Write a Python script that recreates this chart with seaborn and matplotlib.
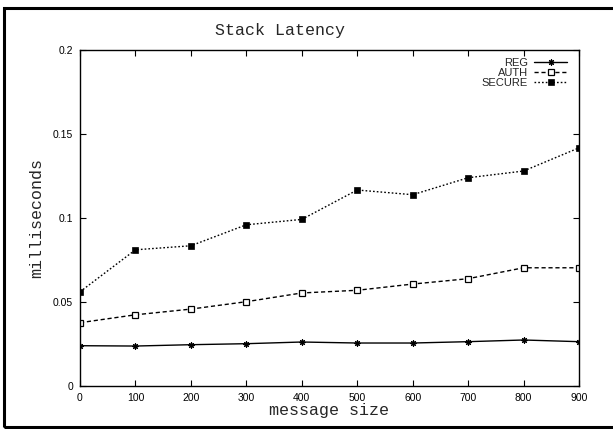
import matplotlib
matplotlib.use("Agg")
import matplotlib.pyplot as plt
import seaborn as sns
import pandas as pd
from matplotlib.patches import Rectangle

sizes = [0, 100, 200, 300, 400, 500, 600, 700, 800, 900]
reg = [0.0240, 0.0238, 0.0246, 0.0252, 0.0262, 0.0256, 0.0256, 0.0264, 0.0274, 0.0264]
auth = [0.0377, 0.0424, 0.0458, 0.0502, 0.0554, 0.0570, 0.0607, 0.0639, 0.0704, 0.0704]
secure = [0.0561, 0.0811, 0.0835, 0.0960, 0.0992, 0.1167, 0.1139, 0.1240, 0.1280, 0.1418]
series_names = ["REG", "AUTH", "SECURE"]
yticks = [0, 0.05, 0.1, 0.15, 0.2]
ytick_labels = ["0", "0.05", "0.1", "0.15", "0.2"]

sns.set_theme(style="white")
plt.rcParams["font.family"] = ["Liberation Sans", "DejaVu Sans"]

fig = plt.figure(figsize=(6.13, 4.29), dpi=100)
ax = fig.add_axes([0.1305, 0.1002, 0.814, 0.783])

styles = {
    "REG": dict(linestyle="-", marker=(8, 2, 0), markersize=4.5, markerfacecolor="black",
                markeredgecolor="black", markeredgewidth=0.8),
    "AUTH": dict(linestyle=(0, (3, 2)), marker="s", markersize=4.2, markerfacecolor="white",
                 markeredgecolor="black", markeredgewidth=0.9),
    "SECURE": dict(linestyle=(0, (1.2, 1.5)), marker="s", markersize=4.6, markerfacecolor="black",
                   markeredgecolor="black", markeredgewidth=0.5),
}
for name, vals in zip(series_names, [reg, auth, secure]):
    df = pd.DataFrame({"size": sizes, "ms": vals})
    sns.lineplot(data=df, x="size", y="ms", ax=ax, color="black", linewidth=1.0,
                 label=name, **styles[name])

ax.set_xlim(0, 900)
ax.set_ylim(0, 0.2)
ax.set_xticks(sizes)
ax.set_xticklabels([str(s) for s in sizes], fontsize=7.5)
ax.set_yticks(yticks)
ax.set_yticklabels(ytick_labels, fontsize=7.5)
ax.tick_params(direction="in", length=4, width=0.8, top=True, right=True,
               bottom=True, left=True, colors="black", pad=5, labelcolor="black")
for s in ax.spines.values():
    s.set_visible(True)
    s.set_color("black")
    s.set_linewidth(1.0)

mono = ["Liberation Mono", "DejaVu Sans Mono"]
fig.text(0.457, 0.930, "Stack Latency", fontsize=12, family=mono, ha="center", va="center")
ax.set_xlabel("message size", fontsize=12, family=mono, labelpad=0)
ax.set_ylabel("milliseconds", fontsize=12, family=mono, labelpad=6)

leg = ax.legend(loc="upper right", bbox_to_anchor=(1 - 4 / 499, 1.0), markerfirst=False,
                frameon=False, fontsize=8, handlelength=3.0, handletextpad=0.55,
                labelspacing=0.0, borderaxespad=0.3)

fig.patches.append(Rectangle((4.2 / 613, 1.8 / 429), 1.02, (427.2 - 7.7) / 429,
                             transform=fig.transFigure, fill=False, edgecolor="black",
                             linewidth=2.2))

fig.savefig("out.png", dpi=100)
